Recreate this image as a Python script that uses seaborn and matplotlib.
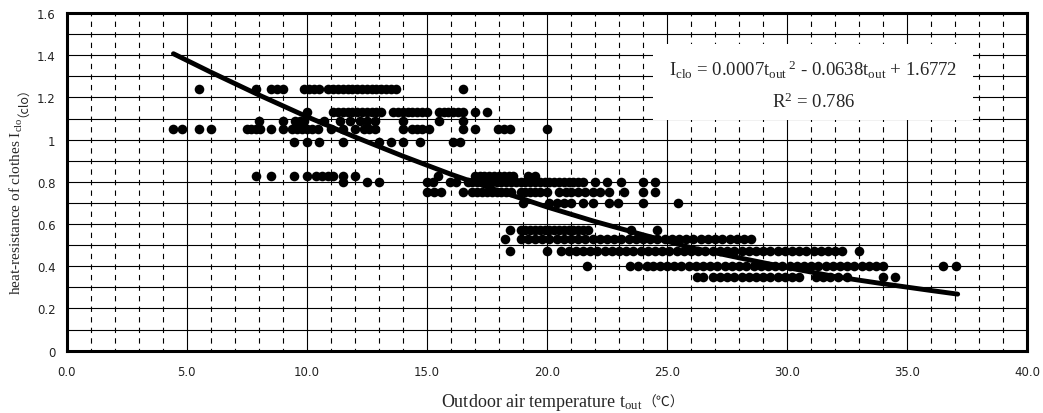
import matplotlib

matplotlib.use("Agg")
import matplotlib.pyplot as plt
import matplotlib.transforms as mtransforms
import pandas as pd
import seaborn as sns
from matplotlib.patches import Rectangle
from matplotlib.ticker import FixedLocator, MultipleLocator

# outdoor temperature of each survey record (deg C), grouped by clothing value
clo_levels = [1.24, 1.13, 1.09, 1.05, 0.99, 0.83, 0.80, 0.75, 0.70,
              0.57, 0.53, 0.47, 0.40, 0.35]
t_124 = [5.5, 7.9, 8.5, 8.75, 9.0, 9.9, 10.1, 10.3, 10.5, 10.9, 11.1, 11.3,
         11.5, 11.7, 11.9, 12.1, 12.3, 12.5, 12.7, 12.9, 13.1, 13.3, 13.5,
         13.7, 16.5]
t_113 = [10.0, 11.1, 11.3, 11.5, 11.7, 11.9, 12.1, 12.3, 12.5, 12.7, 12.9,
         13.1, 13.6, 13.8, 14.0, 14.2, 14.4, 14.6, 14.8, 15.0, 15.5, 15.7,
         15.9, 16.1, 16.3, 16.5, 17.0, 17.5]
t_109 = [8.0, 9.0, 9.5, 9.7, 9.9, 10.7, 11.4, 11.8, 12.2, 12.5, 12.85, 14.0,
         15.5, 16.5]
t_105 = [4.45, 4.8, 5.5, 6.0, 7.5, 7.7, 7.9, 8.05, 8.5, 9.0, 9.4, 9.6, 9.8,
         10.0, 10.2, 10.45, 11.0, 11.5, 12.0, 12.4, 12.6, 12.85, 14.0, 14.4,
         14.6, 14.8, 15.1, 16.5, 17.0, 17.95, 18.2, 18.45, 20.0]
t_099 = [9.45, 10.0, 10.5, 11.5, 13.0, 13.5, 14.0, 14.7, 16.1, 16.4]
t_083 = [7.9, 8.5, 9.45, 10.0, 10.4, 10.65, 10.9, 11.1, 11.5, 12.0, 15.45,
         17.0, 17.2, 17.4, 17.6, 17.8, 18.0, 18.2, 18.4, 18.6, 19.2, 19.5]
t_080 = [11.5, 12.5, 13.0, 15.0, 15.25, 15.95, 16.2, 16.7, 16.9, 17.1, 17.3,
         17.5, 17.7, 17.9, 18.1, 18.3, 18.5, 18.7, 18.9, 19.1, 19.3, 19.5,
         19.7, 19.9, 20.1, 20.3, 20.5, 20.7, 20.9, 21.1, 21.3, 21.5, 22.0,
         22.5, 23.1, 24.0, 24.5]
t_075 = [15.0, 15.3, 15.6, 16.5, 16.9, 17.1, 17.3, 17.5, 17.7, 17.9, 18.1,
         18.3, 18.5, 18.9, 19.1, 19.3, 19.5, 19.7, 20.0, 20.5, 20.8, 21.0,
         21.3, 21.6, 21.9, 22.2, 22.6, 23.2, 24.0, 24.5]
t_070 = [19.0, 20.1, 20.4, 20.7, 21.0, 21.5, 21.9, 22.6, 22.95, 24.0, 25.45]
t_057 = [18.45, 18.9, 19.1, 19.3, 19.5, 19.7, 19.9, 20.1, 20.3, 20.5, 20.7,
         20.9, 21.1, 21.3, 21.5, 21.7, 23.5, 24.6]
t_053 = [18.25, 18.9, 19.2, 19.5, 19.8, 20.1, 20.4, 20.7, 21.0, 21.3, 21.6,
         21.9, 22.2, 22.5, 22.8, 23.1, 23.4, 23.7, 24.0, 24.3, 24.6, 24.9,
         25.2, 25.5, 25.8, 26.1, 26.4, 26.7, 27.0, 27.3, 27.6, 27.9, 28.2,
         28.5]
t_047 = [18.45, 20.0, 20.6, 20.9, 21.2, 21.5, 21.8, 22.1, 22.4, 22.7, 23.0,
         23.3, 23.6, 23.9, 24.2, 24.5, 24.8, 25.1, 25.4, 25.7, 26.0, 26.3,
         26.6, 26.9, 27.2, 27.5, 27.8, 28.1, 28.4, 28.7, 29.0, 29.3, 29.6,
         29.9, 30.2, 30.5, 30.8, 31.1, 31.4, 31.7, 32.0, 32.3, 33.0]
t_040 = [21.65, 23.45, 23.8, 24.15, 24.4, 24.7, 25.0, 25.3, 25.6, 25.9, 26.2,
         26.5, 26.8, 27.1, 27.4, 27.7, 28.0, 28.3, 28.6, 28.9, 29.2, 29.5,
         29.8, 30.1, 30.4, 30.7, 31.0, 31.3, 31.6, 31.9, 32.2, 32.5, 32.8,
         33.1, 33.4, 33.7, 34.0, 36.5, 37.05]
t_035 = [26.25, 26.5, 26.9, 27.2, 27.5, 27.8, 28.1, 28.4, 28.7, 29.0, 29.3,
         29.6, 29.9, 30.2, 30.5, 31.2, 31.5, 31.8, 32.1, 32.5, 34.0, 34.5]
t_by_level = [t_124, t_113, t_109, t_105, t_099, t_083, t_080, t_075, t_070,
              t_057, t_053, t_047, t_040, t_035]

# polynomial trend line
trend_t = [4.45, 6.0, 8.0, 10.0, 12.0, 14.0, 16.0, 18.0, 20.0, 22.0, 24.0,
           26.0, 28.0, 30.0, 32.0, 34.0, 36.0, 37.1]
trend_clo = [1.407, 1.320, 1.212, 1.109, 1.013, 0.922, 0.836, 0.757, 0.681,
             0.612, 0.549, 0.488, 0.440, 0.394, 0.351, 0.317, 0.285, 0.268]

x_ticks = [0, 5, 10, 15, 20, 25, 30, 35, 40]
x_tick_labels = ["0.0", "5.0", "10.0", "15.0", "20.0", "25.0", "30.0",
                 "35.0", "40.0"]
y_ticks = [0, 0.2, 0.4, 0.6, 0.8, 1.0, 1.2, 1.4, 1.6]
y_tick_labels = ["0", "0.2", "0.4", "0.6", "0.8", "1", "1.2", "1.4", "1.6"]

equation = (r"I$_{\mathrm{clo}}$ = 0.0007t$_{\mathrm{out}}\,{}^{2}$"
            r" - 0.0638t$_{\mathrm{out}}$ + 1.6772")
r_squared = r"R$^{2}$ = 0.786"


def chained_text(fig, pieces, x, y, vertical=False):
    # draw text pieces one after another (pixel coords), each with own font
    renderer = fig.canvas.get_renderer()
    for text, props in pieces:
        t = fig.text(x, y, text, transform=mtransforms.IdentityTransform(),
                     rotation=90 if vertical else 0, rotation_mode="anchor",
                     ha="left", va="baseline", **props)
        bb = t.get_window_extent(renderer)
        if vertical:
            y = bb.y1
        else:
            x = bb.x1


def main() -> None:
    sns.set_style("white")
    plt.rcParams["font.family"] = ["DejaVu Sans"]
    plt.rcParams["mathtext.fontset"] = "custom"
    plt.rcParams["mathtext.rm"] = "Liberation Serif"
    plt.rcParams["mathtext.it"] = "Liberation Serif:italic"
    plt.rcParams["mathtext.bf"] = "Liberation Serif:bold"

    df = pd.DataFrame(
        [(t, clo) for clo, ts in zip(clo_levels, t_by_level) for t in ts],
        columns=["t_out", "clo"],
    )

    fig = plt.figure(figsize=(10.43, 4.14), dpi=100)
    ax = fig.add_axes([0.0638, 0.1505, 0.9212, 0.8157])

    sns.scatterplot(data=df, x="t_out", y="clo", color="black", s=48,
                    linewidth=0, zorder=3, ax=ax)
    sns.lineplot(x=trend_t, y=trend_clo, color="black", lw=3.5,
                 solid_capstyle="round", zorder=4, ax=ax)

    ax.set_xlim(0, 40)
    ax.set_ylim(0, 1.6)
    ax.xaxis.set_major_locator(FixedLocator(x_ticks))
    ax.set_xticklabels(x_tick_labels)
    ax.xaxis.set_minor_locator(MultipleLocator(1))
    ax.yaxis.set_major_locator(FixedLocator(y_ticks))
    ax.set_yticklabels(y_tick_labels)
    ax.yaxis.set_minor_locator(MultipleLocator(0.1))
    ax.set_xlabel("")
    ax.set_ylabel("")

    ax.set_axisbelow(True)
    ax.grid(True, which="both", axis="y", color="black", lw=0.8)
    ax.grid(True, which="major", axis="x", color="black", lw=0.8)
    ax.grid(True, which="minor", axis="x", color="black", lw=0.8,
            linestyle=(2.4, (4.8, 4.7)))

    ax.tick_params(which="minor", length=0)
    ax.tick_params(axis="y", which="major", direction="out", length=4,
                   width=1.5, pad=4, labelsize=8.5, labelcolor="#222222")
    ax.tick_params(axis="x", which="major", direction="inout", length=7,
                   width=1.5, pad=7, labelsize=8.5, labelcolor="#222222")
    for spine in ax.spines.values():
        spine.set_linewidth(2.2)
        spine.set_color("black")

    # white box behind the regression equation
    ax.add_patch(Rectangle((0.6104, 0.683), 0.3334, 0.225,
                           transform=ax.transAxes, facecolor="white",
                           edgecolor="none", zorder=2))
    serif = {"family": "Liberation Serif", "size": 13.5}
    ax.text(0.777, 0.8164, equation, transform=ax.transAxes, ha="center",
            va="baseline", zorder=5, **serif)
    ax.text(0.777, 0.7217, r_squared, transform=ax.transAxes, ha="center",
            va="baseline", zorder=5, **serif)

    chained_text(
        fig,
        [("Outdoor air temperature t$_{\\mathrm{out}}$",
          {"family": "Liberation Serif", "size": 13}),
         ("（℃）", {"family": "Noto Sans CJK SC", "size": 10})],
        441, 7,
    )
    chained_text(
        fig,
        [("heat-resistance of clothes I$_{\\mathrm{clo}}$",
          {"family": "Liberation Serif", "size": 11}),
         ("（clo）", {"family": "Noto Sans CJK SC", "size": 9})],
        20.5, 119, vertical=True,
    )

    fig.savefig("out.png", dpi=100)
    plt.close(fig)


if __name__ == "__main__":
    main()
